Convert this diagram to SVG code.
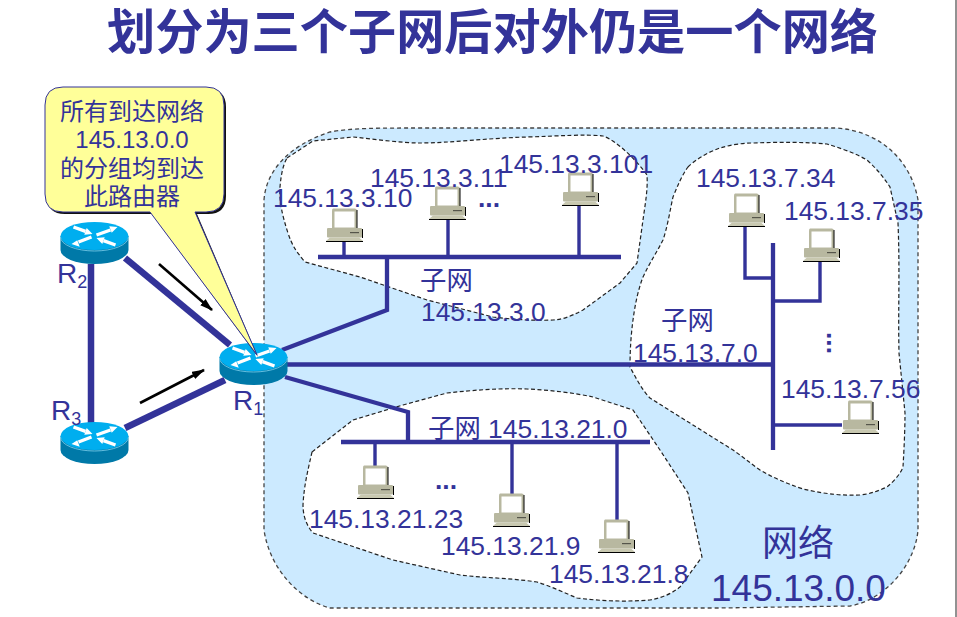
<svg xmlns="http://www.w3.org/2000/svg" xmlns:xlink="http://www.w3.org/1999/xlink" width="957" height="617" viewBox="0 0 957 617">
<style>
text{font-family:"Liberation Sans","Noto Sans CJK SC",sans-serif;fill:#333399;font-size:26.4px}
.cjk{font-family:"Noto Sans CJK SC","Liberation Sans",sans-serif}
.title{font-size:48.200px;font-weight:bold}
.call{font-size:24px;text-anchor:middle}
.dot{font-weight:bold}
.sub{font-size:18px}
.rl{font-size:28px}
.net{fill:#cceaff;stroke:#444;stroke-width:1.3;stroke-dasharray:4 3}
.subnet{fill:#fff;stroke:#222;stroke-width:1.2;stroke-dasharray:4 2.5}
.w5{fill:none;stroke:#333399;stroke-width:6.5}
.w4{fill:none;stroke:#333399;stroke-width:4.300}
.w3{fill:none;stroke:#333399;stroke-width:3.400}
.arr{stroke:#000;stroke-width:2.6;marker-end:url(#ah)}
</style>
<defs>
<marker id="ah" markerUnits="userSpaceOnUse" markerWidth="14" markerHeight="10" refX="12" refY="4" orient="auto"><path d="M0 0L13 4L0 8z" fill="#000"/></marker>
<g id="router">
<path d="M-34 0V14A34 14 0 0 0 34 14V0z" fill="#0079a8"/>
<ellipse cx="0" cy="0" rx="34" ry="14" fill="#00aeef"/>
<path d="M-34 1A34 14 0 0 0 34 1" fill="none" stroke="#7fd0ee" stroke-width=".8"/>
<path d="M2 -1L16 -6M-3 1L-16 6M-21 -9L-9 -4.600M21 9L9 4.600" stroke="#fff" stroke-width="3.400" fill="none"/>
<path d="M23 -9L17.200 -3.200L14.800 -9.800zM-23 8L-17.200 4.200L-14.800 10.800zM-2 -2L-7.800 -7.900L-10.200 -1.300zM2 2L7.800 7.900L10.200 1.300z" fill="#fff"/>
</g>
<g id="pc">
<path d="M7 0.5H29Q31 0.5 31 3V21H6V3Q6 .5 7 .5z" fill="#b8b8a0"/>
<path d="M31 2V21" stroke="#000" stroke-width="1"/>
<rect x="8.5" y="3.5" width="20" height="16" fill="#fff"/>
<rect x="1" y="20" width="35" height="9.5" rx="1" fill="#b8b8a0"/>
<path d="M36.5 21V30" stroke="#000" stroke-width="1"/>
<rect x="24" y="24" width="9" height="1.2" fill="#55554a"/>
<path d="M4 29.5H33L37 33H0z" fill="#c8c8b0"/>
<path d="M0 33.5H37" stroke="#000" stroke-width="1"/>
</g>
</defs>
<rect width="957" height="617" fill="#fff"/>
<path d="M956 0V617" stroke="#777" stroke-width="1.6"/>
<text class="cjk title" x="107" y="49">划分为三个子网后对外仍是一个网络</text>
<g id="network"><path class="net" d="M264 200C266 170 290 145 330 132C350 128 380 128 420 128H837C885 132 912 165 918 200V530C915 565 885 600 850 606L720 608H330C300 600 270 570 264 530z"/></g>
<g id="subnet-3"><path class="subnet" d="M287 158L313 141L353 137C375 139 400 143 420 143C450 143 490 138 527 137C560 136 585 134 603 136C615 140 635 158 647 175C648 190 645 205 643 220L637 263L620 283L583 310C570 317 560 320 553 320C530 321 510 319 493 317L427 300L360 277L305 262C295 250 292 245 288 233C282 215 279 200 280 187C281 175 283 165 287 158z"/></g>
<g id="subnet-7"><path class="subnet" d="M688 167C695 160 708 152 720 148C730 145 742 143 753 143C780 142 805 142 827 144C840 148 855 153 867 160C878 170 884 178 890 187L898 223C900 270 898 310 899 353L905 413C905 430 904 450 903 467C900 475 893 482 887 487C878 491 870 494 860 495C840 496 820 493 803 489C785 483 772 477 760 470C750 463 742 456 733 450L677 415L650 398C642 390 636 378 630 367C630 350 631 335 633 320C635 305 638 290 643 277C650 262 657 252 663 240C668 225 670 210 673 197C678 185 682 175 688 167z"/></g>
<g id="subnet-21"><path class="subnet" d="M312 452L353 420L403 405L447 393C475 390 500 388 527 389C550 390 575 393 593 397L633 410L660 450L688 493L702 557L680 587C670 595 660 598 650 600C625 602 600 601 577 598C565 593 550 586 537 582C510 578 485 578 460 575L393 560L313 533C306 525 303 515 303 505C304 485 308 470 312 452z"/></g>
<g id="connectors">
<path class="w5" d="M125 258L230 345"/>
<path class="w5" d="M91 264V425"/>
<path class="w5" d="M125 428L225 380"/>
<path class="w4" d="M282 350L387 310V257"/>
<path class="w4" d="M285 364.500H773"/>
<path class="w4" d="M285 377L408 412V442"/>
<path class="w4" d="M318 257H621"/>
<path class="w3" d="M344 242V257M448 219V257M579 206V257"/>
<path class="w4" d="M773 243V450"/>
<path class="w3" d="M745 227V278H773M820 262V301H773M773 425H842"/>
<path class="w4" d="M341 442H650"/>
<path class="w3" d="M375 442V466M512 442V494M617 442V520"/>
<path class="arr" d="M159 264L212 310"/>
<path class="arr" d="M140 403L204 370"/>
</g>
<g id="R2"><use xlink:href="#router" href="#router" x="94.500" y="236"/></g>
<g id="R3"><use xlink:href="#router" href="#router" x="94.500" y="436"/></g>
<g id="R1"><use xlink:href="#router" href="#router" x="253.500" y="357"/></g>
<g id="callout">
<path d="M65 89H208Q226 89 226 107V196Q226 214 208 214H197L258 357L152 214H65Q47 214 47 196V107Q47 89 65 89z" fill="#111"/>
<path d="M63 87H206Q224 87 224 105V194Q224 212 206 212H195L257 355L150 212H63Q45 212 45 194V105Q45 87 63 87z" fill="#ffff99" stroke="#333399" stroke-width="1"/>
<text class="cjk call" x="132" y="120">所有到达网络</text>
<text class="call" x="132" y="148">145.13.0.0</text>
<text class="cjk call" x="132" y="177">的分组均到达</text>
<text class="cjk call" x="132" y="205">此路由器</text>
</g>
<g id="pc1"><use xlink:href="#pc" href="#pc" x="326" y="208"/></g>
<g id="pc2"><use xlink:href="#pc" href="#pc" x="429" y="186"/></g>
<g id="pc3"><use xlink:href="#pc" href="#pc" x="562" y="172"/></g>
<g id="pc4"><use xlink:href="#pc" href="#pc" x="728" y="193"/></g>
<g id="pc5"><use xlink:href="#pc" href="#pc" x="803" y="228"/></g>
<g id="pc6"><use xlink:href="#pc" href="#pc" x="842" y="400"/></g>
<g id="pc7"><use xlink:href="#pc" href="#pc" x="357" y="465"/></g>
<g id="pc8"><use xlink:href="#pc" href="#pc" x="493" y="493"/></g>
<g id="pc9"><use xlink:href="#pc" href="#pc" x="598" y="519"/></g>
<g id="labels">
<text class="rl" x="57" y="283">R<tspan class="sub" dy="5">2</tspan></text>
<text class="rl" x="51" y="420">R<tspan class="sub" dy="5">3</tspan></text>
<text class="rl" x="233" y="410">R<tspan class="sub" dy="5">1</tspan></text>
<text x="273" y="207">145.13.3.10</text>
<text x="370" y="187">145.13.3.11</text>
<text x="499" y="173">145.13.3.101</text>
<text class="dot" x="478" y="207">...</text>
<text class="cjk" x="420" y="290">子网</text>
<text x="421" y="321">145.13.3.0</text>
<text x="696" y="187">145.13.7.34</text>
<text x="784" y="220">145.13.7.35</text>
<text class="cjk" x="661" y="330">子网</text>
<text x="633" y="362">145.13.7.0</text>
<text class="dot" transform="translate(824 332) rotate(90)" x="0" y="-3">...</text>
<text x="781" y="398">145.13.7.56</text>
<text x="428" y="438"><tspan class="cjk">子网</tspan> 145.13.21.0</text>
<text class="dot" x="435" y="489">...</text>
<text x="309" y="528">145.13.21.23</text>
<text x="441" y="555">145.13.21.9</text>
<text x="549" y="583">145.13.21.8</text>
<text class="cjk" x="762" y="556" style="font-size:36px">网络</text>
<text x="711" y="601" style="font-size:37px">145.13.0.0</text>
</g>
</svg>
